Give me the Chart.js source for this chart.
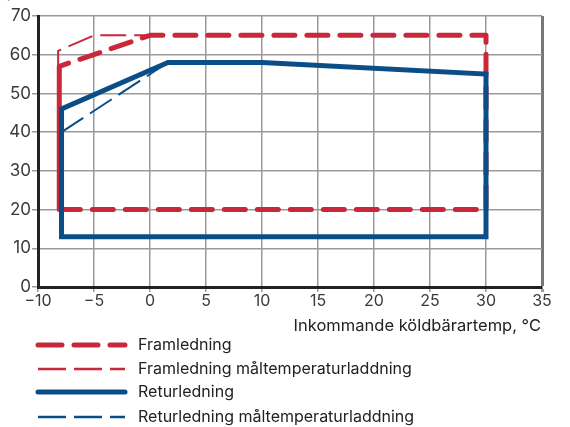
<!DOCTYPE html>
<html>
<head>
<meta charset="utf-8">
<script src="https://cdn.jsdelivr.net/npm/chart.js@4.4.1/dist/chart.umd.min.js"></script>
<style>
  html, body { margin: 0; padding: 0; background: #fff; }
  #wrap { width: 570px; height: 427px; position: relative; }
</style>
</head>
<body>
<div id="wrap"><canvas id="chart"></canvas></div>
<script>
// Axis ticks
const xTicks = [-10, -5, 0, 5, 10, 15, 20, 25, 30, 35];
const yTicks = [0, 10, 20, 30, 40, 50, 60, 70];

// Framledning (flow line)
const framX = [-8.1, -8.1, 0, 30, 30, -8.1, -8.1];
const framY = [20, 57, 65, 65, 20, 20, 57];

// Framledning måltemperaturladdning (only the part not hidden under the flow line)
const framMalX = [-8.2, -8.2, -5, 1];
const framMalY = [20, 61, 65, 65];

// Returledning (return line)
const retX = [-7.9, -7.9, 1.6, 10, 30, 30, -7.9, -7.9];
const retY = [13, 46, 58, 58, 55, 13, 13, 46];

// Returledning måltemperaturladdning
const retMalX = [-7.9, 1.6];
const retMalY = [40, 58];

const labels = ['Framledning', 'Framledning måltemperaturladdning', 'Returledning', 'Returledning måltemperaturladdning'];

const RED = '#c8283a';
const BLUE = '#0a4d87';
const FONT = 'Inter, "Noto Sans", sans-serif';

function pts(xs, ys) {
    return xs.map((x, i) => ({ x: x, y: ys[i] }));
}

// legend + axis title + cut off unit label
const extraText = {
    id: 'extraText',
    afterDraw(chart) {
        const ctx = chart.ctx;
        ctx.save();
        ctx.fillStyle = '#222';
        ctx.font = '16.5px ' + FONT;
        ctx.textAlign = 'right';
        ctx.textBaseline = 'middle';
        ctx.fillText('Inkommande köldbärartemp, °C', 541, 326);

        ctx.textAlign = 'left';
        ctx.textBaseline = 'alphabetic';
        ctx.fillStyle = '#444';
        ctx.font = '17px ' + FONT;
        ctx.fillText('(°C)', 4, -2);

        // legend rows
        const rowsY = [345, 369, 392, 417];
        chart.data.datasets.forEach((ds, i) => {
            const y = rowsY[i];
            ctx.beginPath();
            ctx.strokeStyle = ds.borderColor;
            ctx.lineWidth = ds.legendWidth;
            ctx.lineCap = ds.borderCapStyle;
            ctx.setLineDash(ds.legendDash);
            ctx.moveTo(38, y);
            ctx.lineTo(125, y);
            ctx.stroke();
            ctx.setLineDash([]);
            ctx.fillStyle = '#222';
            ctx.font = '16px ' + FONT;
            ctx.textBaseline = 'middle';
            ctx.fillText(ds.label, 138, y);
        });
        ctx.restore();
    }
};

const ctx = document.getElementById('chart').getContext('2d');
new Chart(ctx, {
    type: 'line',
    data: {
        datasets: [
            {
                label: labels[0],
                data: pts(framX, framY),
                borderColor: RED,
                borderWidth: 5,
                borderDash: [21, 12],
                borderCapStyle: 'round',
                borderJoinStyle: 'round',
                legendWidth: 5,
                legendDash: [24, 12],
                order: 2
            },
            {
                label: labels[1],
                data: pts(framMalX, framMalY),
                borderColor: RED,
                borderWidth: 2,
                borderDash: [26, 8],
                borderCapStyle: 'butt',
                borderJoinStyle: 'miter',
                legendWidth: 2.5,
                legendDash: [28, 8],
                order: 3
            },
            {
                label: labels[2],
                data: pts(retX, retY),
                borderColor: BLUE,
                borderWidth: 5,
                borderDash: [],
                borderCapStyle: 'round',
                borderJoinStyle: 'miter',
                legendWidth: 5,
                legendDash: [],
                order: 0
            },
            {
                label: labels[3],
                data: pts(retMalX, retMalY),
                borderColor: BLUE,
                borderWidth: 2,
                borderDash: [26, 8],
                borderCapStyle: 'butt',
                borderJoinStyle: 'miter',
                legendWidth: 2.5,
                legendDash: [28, 8],
                order: 1
            }
        ]
    },
    options: {
        responsive: true,
        maintainAspectRatio: false,
        animation: false,
        events: [],
        elements: {
            point: { radius: 0 },
            line: { tension: 0, fill: false }
        },
        layout: { padding: { left: 0, right: 28, top: 16, bottom: 0 } },
        plugins: {
            legend: { display: false },
            tooltip: { enabled: false }
        },
        scales: {
            x: {
                type: 'linear',
                min: -10,
                max: 35,
                afterBuildTicks: (s) => { s.ticks = xTicks.map(v => ({ value: v })); },
                afterFit: (s) => { s.height = 140; },
                ticks: {
                    color: '#3a3a3a',
                    font: { family: FONT, size: 16 },
                    padding: 0,
                    maxRotation: 0,
                    callback: (v) => String(v).replace('-', '\u2212')
                },
                grid: {
                    color: (c) => c.index === xTicks.length - 1 ? '#777' : '#9a9a9a',
                    lineWidth: (c) => c.index === xTicks.length - 1 ? 3 : 1.5,
                    tickColor: '#9a9a9a',
                    tickLength: 5
                },
                border: { color: '#222', width: 3 }
            },
            y: {
                min: 0,
                max: 70,
                afterBuildTicks: (s) => { s.ticks = yTicks.map(v => ({ value: v })); },
                afterFit: (s) => { s.width = 38; },
                ticks: {
                    color: '#3a3a3a',
                    font: { family: FONT, size: 17 },
                    padding: 1
                },
                grid: {
                    color: '#9a9a9a',
                    lineWidth: 1.5,
                    tickColor: '#9a9a9a',
                    tickLength: 6
                },
                border: { color: '#222', width: 3 }
            }
        }
    },
    plugins: [extraText]
});
</script>
</body>
</html>
